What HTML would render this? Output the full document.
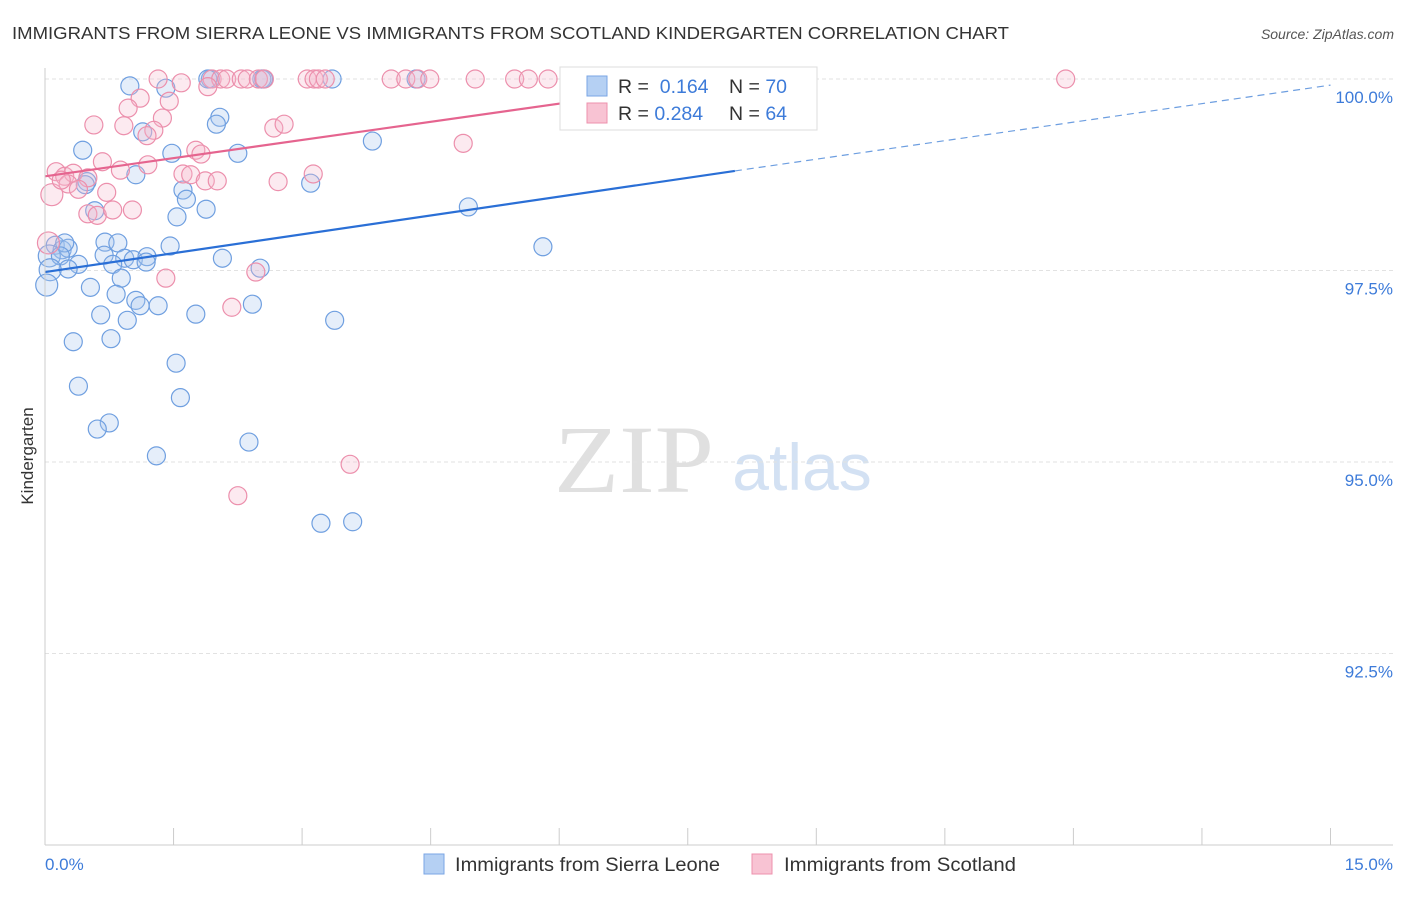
<!DOCTYPE html>
<html><head><meta charset="utf-8"><style>
body{margin:0;background:#fff;font-family:"Liberation Sans",sans-serif}
svg text{font-family:"Liberation Sans",sans-serif}
</style></head><body>
<svg id="c" width="1406" height="892">
<text x="12" y="39" font-size="17.5" fill="#333" textLength="997" lengthAdjust="spacingAndGlyphs">IMMIGRANTS FROM SIERRA LEONE VS IMMIGRANTS FROM SCOTLAND KINDERGARTEN CORRELATION CHART</text>
<text x="1394" y="39" font-size="14" fill="#555" font-style="italic" text-anchor="end">Source: ZipAtlas.com</text>
<text x="634" y="492" font-size="96" fill="#e0e0e0" text-anchor="middle" textLength="160" lengthAdjust="spacingAndGlyphs" style="font-family:'Liberation Serif',serif">ZIP</text>
<text x="802" y="490" font-size="66" fill="#d3e1f3" text-anchor="middle">atlas</text>
<g id="grid"></g><g id="marks"></g><g id="lines"></g>
<line x1="45" y1="68" x2="45" y2="845" stroke="#ccc"/>
<line x1="45" y1="845" x2="1393" y2="845" stroke="#ccc"/>
<text x="45" y="870" font-size="17" fill="#3d7bd9">0.0%</text>
<text x="1393" y="870" font-size="17" fill="#3d7bd9" text-anchor="end">15.0%</text>
<text transform="translate(33,456) rotate(-90)" font-size="17" fill="#333" text-anchor="middle">Kindergarten</text>
<g>
<rect x="560" y="67" width="257" height="63" fill="#fff" stroke="#ddd"/>
<rect x="587" y="76" width="20" height="20" fill="#b5d0f3" stroke="#7aa6e4"/>
<rect x="587" y="103" width="20" height="20" fill="#f8c3d3" stroke="#ee90ad"/>
<text x="618" y="93" font-size="19.5" fill="#333">R = <tspan fill="#3d7bd9">&#160;0.164</tspan></text>
<text x="729" y="93" font-size="19.5" fill="#333">N = <tspan fill="#3d7bd9">70</tspan></text>
<text x="618" y="120" font-size="19.5" fill="#333">R = <tspan fill="#3d7bd9">0.284</tspan></text>
<text x="729" y="120" font-size="19.5" fill="#333">N = <tspan fill="#3d7bd9">64</tspan></text>
</g>
<g>
<rect x="424" y="854" width="20" height="20" fill="#b5d0f3" stroke="#7aa6e4"/>
<text x="455" y="871" font-size="19" fill="#333" textLength="265" lengthAdjust="spacingAndGlyphs">Immigrants from Sierra Leone</text>
<rect x="752" y="854" width="20" height="20" fill="#f8c3d3" stroke="#ee90ad"/>
<text x="784" y="871" font-size="19" fill="#333" textLength="232" lengthAdjust="spacingAndGlyphs">Immigrants from Scotland</text>
</g>
</svg>
<script>
const yTicks=[100,97.5,95,92.5];
const yTickLabels=["100.0%","97.5%","95.0%","92.5%"];
const xTicks=[0,1.5,3,4.5,6,7.5,9,10.5,12,13.5,15];
const blueX=[0.99,1.93,2.53,3.35,4.33,1.41,2.04,2.00,1.14,0.44,1.48,2.25,3.82,1.06,0.49,0.47,1.61,1.65,0.58,1.54,1.88,3.10,4.94,5.81,0.12,0.20,0.27,0.23,0.70,0.85,1.46,0.05,0.18,0.69,0.93,1.03,1.19,1.18,0.79,0.39,2.07,2.51,0.27,0.06,0.02,0.53,0.89,0.83,1.06,1.11,1.32,2.42,0.65,0.96,1.76,3.38,0.77,0.33,1.53,0.39,1.58,0.75,0.61,2.38,1.30,3.22,3.59,6.20,1.90,2.55];
const blueY=[99.91,100,100,100,100,99.88,99.50,99.41,99.31,99.07,99.03,99.03,99.19,98.75,98.66,98.62,98.55,98.43,98.28,98.20,98.30,98.64,98.33,97.81,97.83,97.77,97.79,97.86,97.87,97.86,97.82,97.69,97.69,97.70,97.66,97.64,97.68,97.61,97.58,97.58,97.66,97.53,97.52,97.51,97.31,97.28,97.40,97.19,97.11,97.04,97.04,97.06,96.92,96.85,96.93,96.85,96.61,96.57,96.29,95.99,95.84,95.51,95.43,95.26,95.08,94.20,94.22,99.54,100,100];
const pinkX=[1.32,1.59,1.95,2.05,2.12,2.29,2.36,2.49,2.56,3.06,3.14,3.19,3.27,4.04,4.21,4.35,4.49,5.02,5.48,5.64,5.87,11.91,1.90,1.11,1.45,0.97,1.37,0.57,0.92,1.27,1.19,2.67,2.79,4.88,1.76,1.82,0.67,0.13,0.23,0.33,0.50,0.88,1.20,1.61,1.70,3.13,0.27,0.39,0.72,0.08,1.87,2.01,2.72,0.50,0.61,0.79,1.02,0.04,1.41,2.46,2.18,3.56,2.25,0.19];
const pinkY=[100,99.95,100,100,100,100,100,100,100,100,100,100,100,100,100,100,100,100,100,100,100,100,99.90,99.75,99.71,99.62,99.49,99.40,99.39,99.33,99.26,99.36,99.41,99.16,99.07,99.02,98.92,98.79,98.73,98.77,98.71,98.81,98.88,98.76,98.75,98.76,98.63,98.56,98.52,98.49,98.67,98.67,98.66,98.24,98.22,98.29,98.29,97.86,97.40,97.48,97.02,94.97,94.56,98.68];
const blueLine=[[0,97.48],[8.05,98.80]];
const blueDash=[[8.05,98.80],[15,99.92]];
const pinkLine=[[0,98.73],[8.1,100.01]];
const NS="http://www.w3.org/2000/svg";
const X=v=>45+v*85.7, Y=v=>79+(100-v)*76.6;
function mk(t,a,p){const e=document.createElementNS(NS,t);for(const k in a)e.setAttribute(k,a[k]);p.appendChild(e);return e;}
const grid=document.getElementById('grid'),marks=document.getElementById('marks'),lines=document.getElementById('lines');
yTicks.forEach((t,i)=>{
 const l=mk('line',{x1:45,x2:1393,y1:Y(t),y2:Y(t),stroke:'#e2e2e2','stroke-dasharray':'4,3'},grid);
 
 
 const tx=mk('text',{x:1393,y:Y(t)+24,'font-size':17,fill:'#3d7bd9','text-anchor':'end'},grid);
 tx.textContent=yTickLabels[i];
 
 
});
xTicks.forEach(t=>{
 const l=mk('line',{x1:X(t),x2:X(t),y1:828,y2:845,stroke:'#ccc'},grid);
 
 
});
function pts(xs,ys,fill,stroke,name){
 xs.forEach((x,i)=>{
  const c=mk('circle',{cx:X(x),cy:Y(ys[i]),r:x<0.1?11:9,fill:fill,'fill-opacity':0.3,stroke:stroke,'stroke-width':1.2},marks);
  
  
 });
}
pts(blueX,blueY,'#a9c8f0','#6f9fe0','point-sierra-leone');
pts(pinkX,pinkY,'#f6b9cc','#ec8fac','point-scotland');
function ln(p,color,dash,name){
 const l=mk('line',{x1:X(p[0][0]),y1:Y(p[0][1]),x2:X(p[1][0]),y2:Y(p[1][1]),stroke:color,'stroke-width':dash?1.2:2.2},lines);
 if(dash)l.setAttribute('stroke-dasharray','7,5');
 
 
}
ln(blueLine,'#2a6fd6',false,'trend-sierra-leone');
ln(blueDash,'#6d9ee0',true,'trend-sierra-leone-extension');
ln(pinkLine,'#e5648f',false,'trend-scotland');
</script>
</body></html>
